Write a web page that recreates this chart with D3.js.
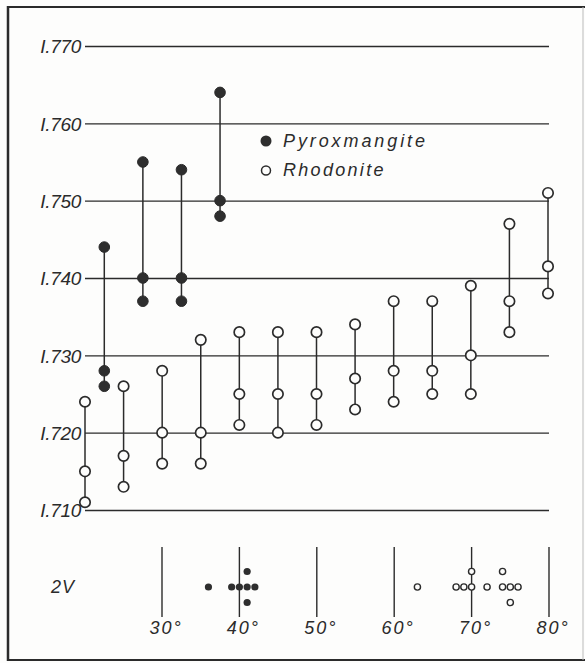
<!DOCTYPE html>
<html>
<head>
<meta charset="utf-8">
<script src="https://cdn.jsdelivr.net/npm/d3@7"></script>
<style>
  html, body { margin: 0; padding: 0; background: #fdfdfc; }
  svg { display: block; }
  text { font-family: "Liberation Sans", Arial, sans-serif; font-style: italic; fill: #2b2b2b; }
</style>
</head>
<body>
<div id="chart"></div>
<script>
// ---------- data ----------
const indexTicks = [1.710, 1.720, 1.730, 1.740, 1.750, 1.760, 1.770];
const indexTickLabels = ["I.710", "I.720", "I.730", "I.740", "I.750", "I.760", "I.770"];

// Rhodonite samples (alpha, beta, gamma)
const rhodonitePos   = [1, 2, 3, 4, 5, 6, 7, 8, 9, 10, 11, 12, 13];
const rhodoniteAlpha = [1.711, 1.713, 1.716, 1.716, 1.721, 1.720, 1.721, 1.723, 1.724, 1.725, 1.725, 1.733, 1.738];
const rhodoniteBeta  = [1.715, 1.717, 1.720, 1.720, 1.725, 1.725, 1.725, 1.727, 1.728, 1.728, 1.730, 1.737, 1.7415];
const rhodoniteGamma = [1.724, 1.726, 1.728, 1.732, 1.733, 1.733, 1.733, 1.734, 1.737, 1.737, 1.739, 1.747, 1.751];

// Pyroxmangite samples (alpha, beta, gamma)
const pyroxPos   = [1.5, 2.5, 3.5, 4.5];
const pyroxAlpha = [1.726, 1.737, 1.737, 1.748];
const pyroxBeta  = [1.728, 1.740, 1.740, 1.750];
const pyroxGamma = [1.744, 1.755, 1.754, 1.764];

// 2V distribution
const degTicks = [30, 40, 50, 60, 70, 80];
const degTickLabels = ["30°", "40°", "50°", "60°", "70°", "80°"];
const pyrox2V    = [36, 39, 40, 41, 41, 41, 42];
const pyrox2VRow = [0, 0, 0, 0, 1, -1, 0];
const rhodo2V    = [63, 68, 69, 70, 70, 72, 74, 74, 75, 75, 76];
const rhodo2VRow = [0, 0, 0, 0, 1, 0, 0, 1, 0, -1, 0];

const legendLabels = ["Pyroxmangite", "Rhodonite"];

// ---------- drawing ----------
const W = 585, H = 663;
const ink = "#2b2b2b";
const svg = d3.select("#chart").append("svg").attr("width", W).attr("height", H);

// frame
svg.append("rect").attr("x", 0).attr("y", 0).attr("width", W).attr("height", H).attr("fill", "#fdfdfc");
svg.append("line").attr("x1", 8).attr("x2", 8).attr("y1", 6).attr("y2", 661).attr("stroke", ink).attr("stroke-width", 2.5);
svg.append("line").attr("x1", 7).attr("x2", 585).attr("y1", 7).attr("y2", 7).attr("stroke", ink).attr("stroke-width", 2.2);
svg.append("line").attr("x1", 7).attr("x2", 585).attr("y1", 660).attr("y2", 660).attr("stroke", ink).attr("stroke-width", 2.2);
svg.append("line").attr("x1", 583).attr("x2", 583).attr("y1", 7).attr("y2", 660).attr("stroke", "#bbb").attr("stroke-width", 1);

const x = d3.scaleLinear().domain([1, 13]).range([85, 548]);
const y = d3.scaleLinear().domain([1.710, 1.770]).range([510, 46]);

// gridlines via axis
const yAxis = d3.axisLeft(y).tickValues(indexTicks)
  .tickFormat((d, i) => indexTickLabels[i])
  .tickSize(-(549 - 85)).tickPadding(4);
const gy = svg.append("g").attr("transform", "translate(85,0)").call(yAxis);
gy.select(".domain").remove();
gy.selectAll(".tick line").attr("stroke", ink).attr("stroke-width", 1.3);
gy.selectAll(".tick text")
  .attr("font-size", 19).attr("letter-spacing", -0.3)
  .attr("fill", "#333").attr("font-family", "Liberation Sans, Arial, sans-serif")
  .attr("font-style", "italic").attr("dy", "0.36em");

// sample columns
function drawSeries(pos, a, b, g, filled) {
  const rows = pos.map((p, i) => ({ p, v: [a[i], b[i], g[i]] }));
  const grp = svg.append("g");
  grp.selectAll("line.stem").data(rows).join("line")
    .attr("x1", d => x(d.p)).attr("x2", d => x(d.p))
    .attr("y1", d => y(d3.min(d.v))).attr("y2", d => y(d3.max(d.v)))
    .attr("stroke", ink).attr("stroke-width", 1.5);
  const pts = rows.flatMap(d => d.v.map(v => ({ p: d.p, v })));
  grp.selectAll("circle").data(pts).join("circle")
    .attr("cx", d => x(d.p)).attr("cy", d => y(d.v))
    .attr("r", filled ? 5.3 : 5.2)
    .attr("fill", filled ? "#2e2e2e" : "#fdfdfc")
    .attr("stroke", ink).attr("stroke-width", filled ? 1 : 1.7);
}
drawSeries(rhodonitePos, rhodoniteAlpha, rhodoniteBeta, rhodoniteGamma, false);
drawSeries(pyroxPos, pyroxAlpha, pyroxBeta, pyroxGamma, true);

// legend
const lg = svg.append("g");
lg.append("circle").attr("cx", 266).attr("cy", 141).attr("r", 5.5).attr("fill", "#2e2e2e");
lg.append("circle").attr("cx", 266).attr("cy", 170.5).attr("r", 4.5).attr("fill", "none").attr("stroke", ink).attr("stroke-width", 1.5);
lg.selectAll("text").data(legendLabels).join("text")
  .attr("x", 283).attr("y", (d, i) => 147 + i * 29)
  .attr("font-size", 18).attr("letter-spacing", (d, i) => i === 0 ? 2.9 : 2.3)
  .text(d => d);

// 2V section
const xd = d3.scaleLinear().domain([30, 80]).range([162, 549]);
const rowY = 587, rowStep = 15.5;
svg.append("text").attr("x", 51).attr("y", 593).attr("font-size", 18).attr("letter-spacing", 1).text("2V");
svg.append("g").selectAll("line").data(degTicks).join("line")
  .attr("x1", d => xd(d)).attr("x2", d => xd(d))
  .attr("y1", 547).attr("y2", 617).attr("stroke", ink).attr("stroke-width", 1.4);
svg.append("g").selectAll("text").data(degTicks).join("text")
  .attr("x", d => xd(d) + 4).attr("y", 634).attr("text-anchor", "middle")
  .attr("font-size", 18).attr("letter-spacing", 2)
  .text((d, i) => degTickLabels[i]);

svg.append("g").selectAll("circle").data(pyrox2V.map((v, i) => ({ v, r: pyrox2VRow[i] }))).join("circle")
  .attr("cx", d => xd(d.v)).attr("cy", d => rowY - d.r * rowStep)
  .attr("r", 3.6).attr("fill", "#2e2e2e");
svg.append("g").selectAll("circle").data(rhodo2V.map((v, i) => ({ v, r: rhodo2VRow[i] }))).join("circle")
  .attr("cx", d => xd(d.v)).attr("cy", d => rowY - d.r * rowStep)
  .attr("r", 3.1).attr("fill", "#fdfdfc").attr("stroke", ink).attr("stroke-width", 1.4);
</script>
</body>
</html>
